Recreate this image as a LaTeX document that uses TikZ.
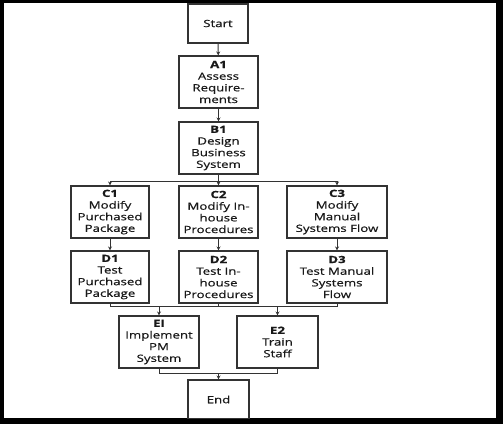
\documentclass[tikz,border=0pt]{standalone}
\usepackage{fontspec}
\setmainfont{Open Sans}[FakeStretch=1.33,FakeBold=0.6]
\usetikzlibrary{arrows.meta}
\begin{document}
\begin{tikzpicture}[x=1bp,y=-1bp,
  box/.style={draw=black!80,line width=1.1bp,fill=white,align=center,inner sep=0pt,
    font=\fontsize{10}{11.7}\selectfont,text=black!90},
  link/.style={draw=black!80,line width=1bp},
  arr/.style={link,-{Stealth[length=4bp,width=4bp]}}]
% frame
\fill[black] (0,0) rectangle (503,424);
\fill[white] (4,3) rectangle (496,418);
\useasboundingbox (0,0) rectangle (503,424);
\begin{scope}
\clip (4,3) rectangle (496,418);
\node[box,minimum width=60bp,minimum height=39bp] (S) at (218,23.5) {Start};
\node[box,minimum width=79bp,minimum height=52bp] (A1) at (218.5,82) {\textbf{A1}\\Assess\\Require-\\ments};
\node[box,minimum width=79bp,minimum height=52bp] (B1) at (218.5,148) {\textbf{B1}\\Design\\Business\\System};
\node[box,minimum width=78bp,minimum height=52bp] (C1) at (110,212) {\textbf{C1}\\Modify\\Purchased\\Package};
\node[box,minimum width=79bp,minimum height=52bp] (C2) at (218.5,212) {\textbf{C2}\\Modify In-\\house\\Procedures};
\node[box,minimum width=100bp,minimum height=52bp] (C3) at (337,212) {\textbf{C3}\\Modify\\Manual\\Systems Flow};
\node[box,minimum width=78bp,minimum height=52bp] (D1) at (110,277) {\textbf{D1}\\Test\\Purchased\\Package};
\node[box,minimum width=79bp,minimum height=52bp] (D2) at (218.5,277) {\textbf{D2}\\Test In-\\house\\Procedures};
\node[box,minimum width=100bp,minimum height=52bp] (D3) at (337,277) {\textbf{D3}\\Test Manual\\Systems\\Flow};
\node[box,minimum width=80bp,minimum height=52bp] (E1) at (159,342) {\textbf{EI}\\Implement\\PM\\System};
\node[box,minimum width=81bp,minimum height=52bp] (E2) at (277.5,342) {\textbf{E2}\\Train\\Staff};
\node[box,minimum width=61bp,minimum height=39bp] (End) at (218.5,399.5) {End};
\coordinate (j1) at (218.5,181);
\coordinate (j2) at (218.5,306);
\coordinate (j3) at (218.5,373);
\draw[arr] (S) -- (A1);
\draw[arr] (A1) -- (B1);
\draw[link] (B1.south) -- (j1);
\draw[link] (C1.north |- j1) -- (C3.north |- j1);
\draw[arr] (C1.north |- j1) -- (C1.north);
\draw[arr] (j1) -- (C2.north);
\draw[arr] (C3.north |- j1) -- (C3.north);
\draw[arr] (C1) -- (D1);
\draw[arr] (C2) -- (D2);
\draw[arr] (C3) -- (D3);
\draw[link] (D1.south) |- (j2);
\draw[link] (D3.south) |- (j2);
\draw[link] (D2.south) -- (j2);
\draw[arr] (E1.north |- j2) -- (E1.north);
\draw[arr] (E2.north |- j2) -- (E2.north);
\draw[link] (E1.south) |- (j3);
\draw[link] (E2.south) |- (j3);
\draw[arr] (j3) -- (End.north);
\end{scope}
\end{tikzpicture}
\end{document}
